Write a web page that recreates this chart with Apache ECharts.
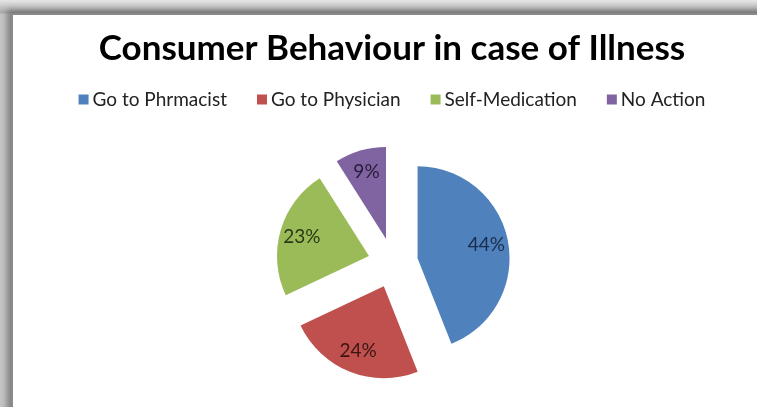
<!DOCTYPE html>
<html>
<head>
<meta charset="utf-8">
<script src="https://cdn.jsdelivr.net/npm/echarts@6/dist/echarts.min.js"></script>
<style>
  html, body { margin: 0; padding: 0; width: 757px; height: 407px; overflow: hidden; }
  body { background: linear-gradient(to bottom, #e6e6e6 0px, #a8a8a8 13px, #c4c4c4 14px); position: relative; }
  #frame {
    position: absolute; left: 11px; top: 13px; width: 780px; height: 420px;
    background: #fff; border-left: 2px solid #8a8a8a; border-top: 2px solid #8a8a8a;
    box-shadow: -4px -3px 6px rgba(0,0,0,0.35);
  }
  #chart { position: absolute; left: 11px; top: 13px; width: 762px; height: 394px; }
</style>
</head>
<body>
<div id="frame"></div>
<div id="chart"></div>
<script>
const categories = ["Go to Phrmacist", "Go to Physician", "Self-Medication", "No Action"];
const shares = [44, 24, 23, 9];
const sliceColors = ["#4F81BD", "#C0504D", "#9BBB59", "#8064A2"];
const labelColors = ["#1b2c4c", "#3a1514", "#2a3816", "#261c3a"];

const font = "Lato, 'Open Sans', sans-serif";
const center = [382, 250];
const explode = 25;

const chart = echarts.init(document.getElementById("chart"), null, { renderer: "canvas" });

const slices = categories.map((name, i) => ({
  name: name,
  value: shares[i],
  selected: true,
  itemStyle: { color: sliceColors[i] },
}));

const labels = categories.map((name, i) => ({
  name: name,
  value: shares[i],
  selected: true,
  itemStyle: { color: "rgba(0,0,0,0)" },
  label: { color: labelColors[i] },
}));

chart.setOption({
  animation: false,
  title: {
    text: "Consumer Behaviour in case of Illness",
    left: "center",
    top: 13,
    textStyle: { fontFamily: font, fontWeight: "bold", fontSize: 35, color: "#000" },
  },
  legend: {
    data: categories,
    top: 72,
    left: "center",
    icon: "rect",
    itemWidth: 10,
    itemHeight: 10,
    itemGap: 30,
    selectedMode: false,
    textStyle: { fontFamily: font, fontSize: 19, color: "#222", padding: [0, 0, 0, -1] },
  },
  series: [
    {
      type: "pie",
      silent: true,
      center: center,
      radius: [0, 92],
      startAngle: 90,
      selectedMode: "multiple",
      selectedOffset: explode,
      label: { show: false },
      labelLine: { show: false },
      emphasis: { disabled: true },
      data: slices,
    },
    {
      type: "pie",
      silent: true,
      center: center,
      radius: [42, 92],
      startAngle: 90,
      selectedMode: "multiple",
      selectedOffset: explode,
      label: {
        show: true,
        position: "inside",
        formatter: "{c}%",
        fontFamily: font,
        fontSize: 19,
      },
      labelLine: { show: false },
      emphasis: { disabled: true },
      data: labels,
    },
  ],
});
</script>
</body>
</html>
